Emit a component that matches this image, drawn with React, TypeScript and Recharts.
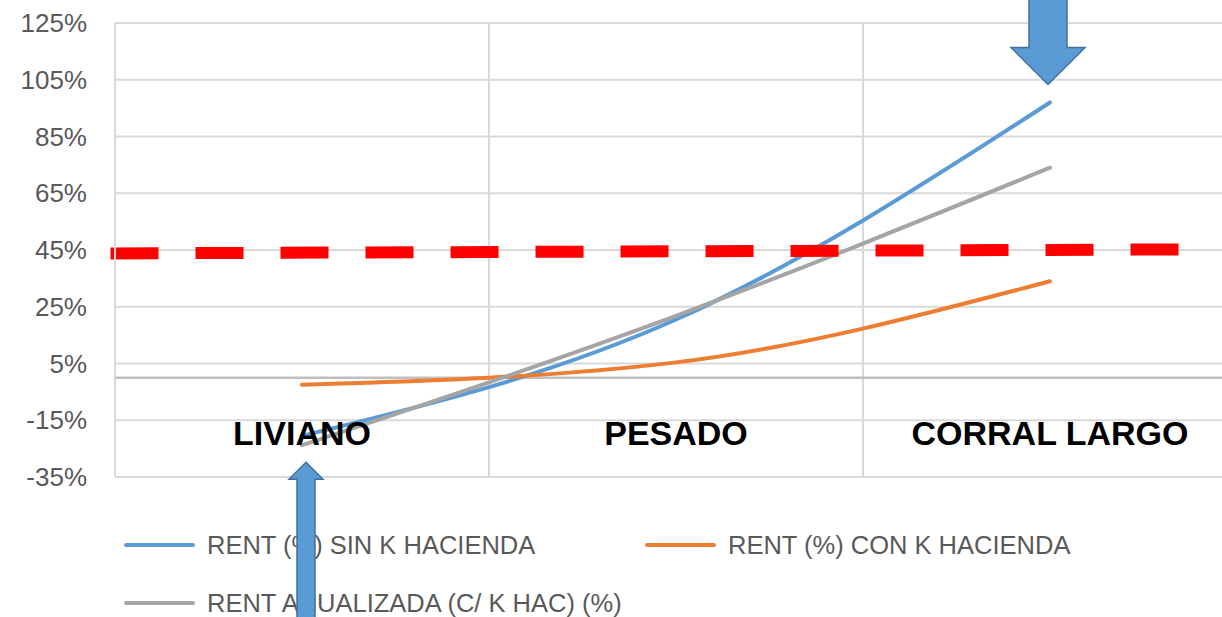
import React from "react";
import {
  CartesianGrid,
  Legend,
  Line,
  LineChart,
  ReferenceDot,
  ReferenceLine,
  XAxis,
  YAxis,
} from "recharts";

const categories = ["LIVIANO", "PESADO", "CORRAL LARGO"];
const rentSinK = [-20.5, 20.5, 97];
const rentConK = [-2.5, 5.4, 34];
const rentAnual = [-23.8, 21.8, 74];
const yTicks = [-35, -15, 5, 25, 45, 65, 85, 105, 125];
const categoryBounds = [1, 2];
// threshold drawn as a dashed segment (x in category units, y in %)
const thresholdStart = { x: -0.012, y: 43.8 };
const thresholdEnd = { x: 2.85, y: 45.2 };

const series = [
  { key: "sin", name: "RENT (%) SIN K HACIENDA", color: "#5b9bd5" },
  { key: "con", name: "RENT (%) CON K HACIENDA", color: "#ed7d31" },
  { key: "anual", name: "RENT ANUALIZADA (C/ K HAC) (%)", color: "#a5a5a5" },
];

const chartData = categories.map((name, i) => ({
  x: i + 0.5,
  name,
  sin: rentSinK[i],
  con: rentConK[i],
  anual: rentAnual[i],
}));

const FONT = "'Liberation Sans', Arial, sans-serif";

function CategoryTick(props: any) {
  const { x, y, payload } = props;
  return (
    <text
      x={x}
      y={y}
      dy={-40}
      textAnchor="middle"
      fontFamily={FONT}
      fontWeight="bold"
      fontSize={34}
      fill="#000"
    >
      {categories[Math.floor(payload.value)]}
    </text>
  );
}

function DownArrow(props: any) {
  const { cx, cy } = props;
  const tx = cx - 2;
  const ty = cy - 18;
  const pts = [
    [tx - 19, -5],
    [tx + 19, -5],
    [tx + 19, ty - 37],
    [tx + 37, ty - 37],
    [tx, ty],
    [tx - 37, ty - 37],
    [tx - 19, ty - 37],
  ];
  return (
    <polygon
      points={pts.map((p) => p.join(",")).join(" ")}
      fill="#5b9bd5"
      stroke="#41719c"
      strokeWidth={1.5}
    />
  );
}

function UpArrow(props: any) {
  const { cx, cy } = props;
  const tx = cx + 4;
  const ty = cy + 17;
  const pts = [
    [tx, ty],
    [tx + 17, ty + 17],
    [tx + 9, ty + 17],
    [tx + 9, 640],
    [tx - 9, 640],
    [tx - 9, ty + 17],
    [tx - 17, ty + 17],
  ];
  return (
    <polygon
      points={pts.map((p) => p.join(",")).join(" ")}
      fill="#5b9bd5"
      stroke="#41719c"
      strokeWidth={1.5}
    />
  );
}

function LegendBox() {
  return (
    <div
      style={{
        height: 110,
        boxSizing: "border-box",
        paddingTop: 23,
        paddingLeft: 124,
        display: "flex",
        flexWrap: "wrap",
        rowGap: 28,
        fontFamily: FONT,
        fontSize: 25.5,
        color: "#595959",
      }}
    >
      {series.map((s) => (
        <div
          key={s.key}
          style={{ width: 521, height: 30, display: "flex", alignItems: "center" }}
        >
          <span
            style={{
              display: "inline-block",
              width: 71,
              height: 4,
              borderRadius: 2,
              background: s.color,
              marginRight: 12,
            }}
          />
          <span style={{ whiteSpace: "nowrap" }}>{s.name}</span>
        </div>
      ))}
    </div>
  );
}

export default function App() {
  return (
    <div
      style={{
        position: "absolute",
        left: 0,
        top: 0,
        width: 1222,
        height: 617,
        overflow: "hidden",
        background: "#fff",
        zIndex: 0,
      }}
    >
      <LineChart
        width={1260}
        height={617}
        data={chartData}
        margin={{ top: 23, right: 23, left: 0, bottom: 0 }}
      >
        <CartesianGrid horizontal vertical={false} stroke="#d9d9d9" strokeWidth={2} />
        <XAxis
          dataKey="x"
          type="number"
          domain={[0, 3]}
          ticks={chartData.map((d) => d.x)}
          height={30}
          axisLine={false}
          tickLine={false}
          tick={<CategoryTick />}
          interval={0}
        />
        <YAxis
          domain={[-35, 125]}
          ticks={yTicks}
          tickFormatter={(v: number) => `${v}%`}
          width={115}
          axisLine={{ stroke: "#d9d9d9", strokeWidth: 2 }}
          tickLine={false}
          tickMargin={22}
          tick={{ fill: "#595959", fontSize: 26, fontFamily: FONT }}
          allowDataOverflow
        />
        {categoryBounds.map((b) => (
          <ReferenceLine key={b} x={b} stroke="#d9d9d9" strokeWidth={2} />
        ))}
        <ReferenceLine y={0} stroke="#bfbfbf" strokeWidth={2.5} />
        {series.map((s) => (
          <Line
            key={s.key}
            dataKey={s.key}
            name={s.name}
            type="monotone"
            stroke={s.color}
            strokeWidth={4}
            strokeLinecap="round"
            dot={false}
            activeDot={false}
            isAnimationActive={false}
          />
        ))}
        <ReferenceLine
          segment={[thresholdStart, thresholdEnd]}
          stroke="#ff0000"
          strokeWidth={12}
          strokeDasharray="48 37"
          ifOverflow="visible"
        />
        <ReferenceDot
          x={chartData[2].x}
          y={rentSinK[2]}
          r={0}
          ifOverflow="visible"
          shape={<DownArrow />}
        />
        <ReferenceDot
          x={chartData[0].x}
          y={rentAnual[0]}
          r={0}
          ifOverflow="visible"
          shape={<UpArrow />}
        />
        <Legend
          verticalAlign="bottom"
          content={<LegendBox />}
          wrapperStyle={{ left: 0, width: 1222, zIndex: -1 }}
        />
      </LineChart>
    </div>
  );
}
